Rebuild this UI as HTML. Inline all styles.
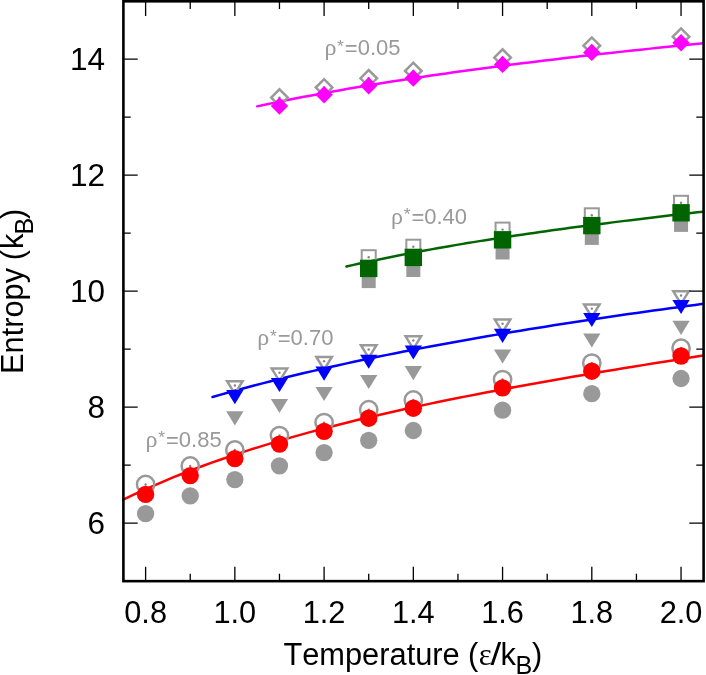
<!DOCTYPE html><html><head><meta charset="utf-8"><title>Entropy vs Temperature</title><style>html,body{margin:0;padding:0;background:#fff}svg{display:block;will-change:transform}</style></head><body><svg width="706" height="675" viewBox="0 0 706 675">
<rect width="706" height="675" fill="#fff"/>
<polyline points="123.30,499.73 133.13,494.99 142.96,490.43 152.79,486.03 162.63,481.80 172.46,477.71 182.29,473.76 192.12,469.94 201.95,466.25 211.78,462.67 221.62,459.20 231.45,455.84 241.28,452.58 251.11,449.41 260.94,446.34 270.77,443.34 280.60,440.43 290.44,437.59 300.27,434.83 310.10,432.13 319.93,429.50 329.76,426.94 339.59,424.43 349.43,421.98 359.26,419.58 369.09,417.23 378.92,414.94 388.75,412.69 398.58,410.48 408.41,408.31 418.25,406.19 428.08,404.10 437.91,402.05 447.74,400.04 457.57,398.06 467.40,396.11 477.23,394.18 487.07,392.29 496.90,390.43 506.73,388.59 516.56,386.77 526.39,384.98 536.22,383.21 546.06,381.46 555.89,379.73 565.72,378.02 575.55,376.32 585.38,374.65 595.21,372.99 605.04,371.34 614.88,369.71 624.71,368.09 634.54,366.48 644.37,364.89 654.20,363.30 664.03,361.73 673.87,360.16 683.70,358.61 693.53,357.06 703.36,355.52" fill="none" stroke="#ff0000" stroke-width="2.5" stroke-linecap="round" stroke-linejoin="round"/>
<polyline points="212.54,397.04 220.86,394.64 229.18,392.29 237.50,389.99 245.82,387.73 254.13,385.52 262.45,383.35 270.77,381.22 279.09,379.12 287.41,377.07 295.73,375.05 304.05,373.06 312.37,371.11 320.69,369.19 329.01,367.31 337.32,365.45 345.64,363.62 353.96,361.82 362.28,360.05 370.60,358.31 378.92,356.59 387.24,354.89 395.56,353.22 403.88,351.58 412.20,349.96 420.51,348.36 428.83,346.78 437.15,345.22 445.47,343.68 453.79,342.17 462.11,340.67 470.43,339.19 478.75,337.73 487.07,336.29 495.39,334.86 503.70,333.46 512.02,332.06 520.34,330.69 528.66,329.33 536.98,327.99 545.30,326.66 553.62,325.34 561.94,324.04 570.26,322.76 578.58,321.48 586.89,320.22 595.21,318.98 603.53,317.74 611.85,316.52 620.17,315.31 628.49,314.11 636.81,312.92 645.13,311.75 653.45,310.58 661.77,309.43 670.08,308.29 678.40,307.15 686.72,306.03 695.04,304.92 703.36,303.81" fill="none" stroke="#0000ff" stroke-width="2.5" stroke-linecap="round" stroke-linejoin="round"/>
<polyline points="346.40,266.51 352.45,265.14 358.50,263.80 364.55,262.48 370.60,261.18 376.65,259.91 382.70,258.66 388.75,257.43 394.80,256.22 400.85,255.03 406.90,253.86 412.95,252.71 419.00,251.57 425.05,250.46 431.10,249.36 437.15,248.28 443.20,247.21 449.25,246.16 455.30,245.13 461.35,244.11 467.40,243.10 473.45,242.11 479.50,241.13 485.55,240.17 491.60,239.22 497.65,238.28 503.70,237.35 509.75,236.44 515.80,235.53 521.85,234.64 527.91,233.76 533.96,232.89 540.01,232.03 546.06,231.18 552.11,230.34 558.16,229.50 564.21,228.68 570.26,227.86 576.31,227.06 582.36,226.26 588.41,225.47 594.46,224.69 600.51,223.91 606.56,223.14 612.61,222.38 618.66,221.63 624.71,220.88 630.76,220.14 636.81,219.40 642.86,218.67 648.91,217.94 654.96,217.22 661.01,216.51 667.06,215.80 673.11,215.10 679.16,214.40 685.21,213.70 691.26,213.01 697.31,212.32 703.36,211.64" fill="none" stroke="#006400" stroke-width="2.5" stroke-linecap="round" stroke-linejoin="round"/>
<polyline points="257.16,106.35 264.72,104.73 272.29,103.15 279.85,101.59 287.41,100.07 294.97,98.57 302.54,97.10 310.10,95.66 317.66,94.25 325.22,92.86 332.79,91.49 340.35,90.15 347.91,88.83 355.48,87.53 363.04,86.25 370.60,84.99 378.16,83.75 385.73,82.54 393.29,81.34 400.85,80.16 408.41,78.99 415.98,77.85 423.54,76.72 431.10,75.61 438.67,74.51 446.23,73.43 453.79,72.36 461.35,71.31 468.92,70.27 476.48,69.24 484.04,68.23 491.60,67.23 499.17,66.24 506.73,65.26 514.29,64.30 521.85,63.35 529.42,62.41 536.98,61.48 544.54,60.55 552.11,59.64 559.67,58.74 567.23,57.85 574.79,56.97 582.36,56.10 589.92,55.24 597.48,54.38 605.04,53.54 612.61,52.70 620.17,51.87 627.73,51.05 635.30,50.23 642.86,49.42 650.42,48.62 657.98,47.83 665.55,47.04 673.11,46.26 680.67,45.49 688.23,44.72 695.80,43.96 703.36,43.20" fill="none" stroke="#ff00ff" stroke-width="2.5" stroke-linecap="round" stroke-linejoin="round"/>
<circle cx="145.61" cy="513.70" r="8.65" fill="#999999"/>
<circle cx="190.23" cy="495.90" r="8.65" fill="#999999"/>
<circle cx="234.85" cy="479.60" r="8.65" fill="#999999"/>
<circle cx="279.47" cy="465.80" r="8.65" fill="#999999"/>
<circle cx="324.09" cy="452.60" r="8.65" fill="#999999"/>
<circle cx="368.71" cy="440.30" r="8.65" fill="#999999"/>
<circle cx="413.33" cy="430.50" r="8.65" fill="#999999"/>
<circle cx="502.57" cy="410.20" r="8.65" fill="#999999"/>
<circle cx="591.81" cy="393.70" r="8.65" fill="#999999"/>
<circle cx="681.05" cy="378.50" r="8.65" fill="#999999"/>
<circle cx="145.61" cy="484.50" r="8.65" fill="none" stroke="#999999" stroke-width="2.5"/>
<circle cx="145.61" cy="484.50" r="1.2" fill="#858585"/>
<circle cx="190.23" cy="466.00" r="8.65" fill="none" stroke="#999999" stroke-width="2.5"/>
<circle cx="190.23" cy="466.00" r="1.2" fill="#858585"/>
<circle cx="234.85" cy="449.90" r="8.65" fill="none" stroke="#999999" stroke-width="2.5"/>
<circle cx="234.85" cy="449.90" r="1.2" fill="#858585"/>
<circle cx="279.47" cy="435.55" r="8.65" fill="none" stroke="#999999" stroke-width="2.5"/>
<circle cx="279.47" cy="435.55" r="1.2" fill="#858585"/>
<circle cx="324.09" cy="422.60" r="8.65" fill="none" stroke="#999999" stroke-width="2.5"/>
<circle cx="324.09" cy="422.60" r="1.2" fill="#858585"/>
<circle cx="368.71" cy="409.70" r="8.65" fill="none" stroke="#999999" stroke-width="2.5"/>
<circle cx="368.71" cy="409.70" r="1.2" fill="#858585"/>
<circle cx="413.33" cy="400.00" r="8.65" fill="none" stroke="#999999" stroke-width="2.5"/>
<circle cx="413.33" cy="400.00" r="1.2" fill="#858585"/>
<circle cx="502.57" cy="379.55" r="8.65" fill="none" stroke="#999999" stroke-width="2.5"/>
<circle cx="502.57" cy="379.55" r="1.2" fill="#858585"/>
<circle cx="591.81" cy="363.10" r="8.65" fill="none" stroke="#999999" stroke-width="2.5"/>
<circle cx="591.81" cy="363.10" r="1.2" fill="#858585"/>
<circle cx="681.05" cy="348.20" r="8.65" fill="none" stroke="#999999" stroke-width="2.5"/>
<circle cx="681.05" cy="348.20" r="1.2" fill="#858585"/>
<polygon points="226.20,411.30 243.50,411.30 234.85,425.40" fill="#999999"/>
<polygon points="270.82,399.00 288.12,399.00 279.47,413.10" fill="#999999"/>
<polygon points="315.44,387.00 332.74,387.00 324.09,401.10" fill="#999999"/>
<polygon points="360.06,375.00 377.36,375.00 368.71,389.10" fill="#999999"/>
<polygon points="404.68,366.10 421.98,366.10 413.33,380.20" fill="#999999"/>
<polygon points="493.92,349.40 511.22,349.40 502.57,363.50" fill="#999999"/>
<polygon points="583.16,333.50 600.46,333.50 591.81,347.60" fill="#999999"/>
<polygon points="672.40,320.80 689.70,320.80 681.05,334.90" fill="#999999"/>
<polygon points="227.10,381.25 242.60,381.25 234.85,393.85" fill="none" stroke="#999999" stroke-width="2.5" stroke-linejoin="miter"/>
<circle cx="234.85" cy="385.45" r="1.2" fill="#858585"/>
<polygon points="271.72,368.55 287.22,368.55 279.47,381.15" fill="none" stroke="#999999" stroke-width="2.5" stroke-linejoin="miter"/>
<circle cx="279.47" cy="372.75" r="1.2" fill="#858585"/>
<polygon points="316.34,356.95 331.84,356.95 324.09,369.55" fill="none" stroke="#999999" stroke-width="2.5" stroke-linejoin="miter"/>
<circle cx="324.09" cy="361.15" r="1.2" fill="#858585"/>
<polygon points="360.96,345.25 376.46,345.25 368.71,357.85" fill="none" stroke="#999999" stroke-width="2.5" stroke-linejoin="miter"/>
<circle cx="368.71" cy="349.45" r="1.2" fill="#858585"/>
<polygon points="405.58,336.35 421.08,336.35 413.33,348.95" fill="none" stroke="#999999" stroke-width="2.5" stroke-linejoin="miter"/>
<circle cx="413.33" cy="340.55" r="1.2" fill="#858585"/>
<polygon points="494.82,319.55 510.32,319.55 502.57,332.15" fill="none" stroke="#999999" stroke-width="2.5" stroke-linejoin="miter"/>
<circle cx="502.57" cy="323.75" r="1.2" fill="#858585"/>
<polygon points="584.06,304.45 599.56,304.45 591.81,317.05" fill="none" stroke="#999999" stroke-width="2.5" stroke-linejoin="miter"/>
<circle cx="591.81" cy="308.65" r="1.2" fill="#858585"/>
<polygon points="673.30,291.35 688.80,291.35 681.05,303.95" fill="none" stroke="#999999" stroke-width="2.5" stroke-linejoin="miter"/>
<circle cx="681.05" cy="295.55" r="1.2" fill="#858585"/>
<rect x="361.71" y="274.10" width="14.0" height="14.0" fill="#999999"/>
<rect x="406.33" y="263.00" width="14.0" height="14.0" fill="#999999"/>
<rect x="495.57" y="245.50" width="14.0" height="14.0" fill="#999999"/>
<rect x="584.81" y="230.90" width="14.0" height="14.0" fill="#999999"/>
<rect x="674.05" y="217.90" width="14.0" height="14.0" fill="#999999"/>
<rect x="361.71" y="250.20" width="14.0" height="14.0" fill="none" stroke="#999999" stroke-width="2.0" stroke-linejoin="miter"/>
<circle cx="368.71" cy="257.20" r="1.2" fill="#858585"/>
<rect x="406.33" y="239.70" width="14.0" height="14.0" fill="none" stroke="#999999" stroke-width="2.0" stroke-linejoin="miter"/>
<circle cx="413.33" cy="246.70" r="1.2" fill="#858585"/>
<rect x="495.57" y="222.60" width="14.0" height="14.0" fill="none" stroke="#999999" stroke-width="2.0" stroke-linejoin="miter"/>
<circle cx="502.57" cy="229.60" r="1.2" fill="#858585"/>
<rect x="584.81" y="208.30" width="14.0" height="14.0" fill="none" stroke="#999999" stroke-width="2.0" stroke-linejoin="miter"/>
<circle cx="591.81" cy="215.30" r="1.2" fill="#858585"/>
<rect x="674.05" y="195.80" width="14.0" height="14.0" fill="none" stroke="#999999" stroke-width="2.0" stroke-linejoin="miter"/>
<circle cx="681.05" cy="202.80" r="1.2" fill="#858585"/>
<polygon points="271.17,97.60 279.47,89.30 287.77,97.60 279.47,105.90" fill="none" stroke="#999999" stroke-width="2.5" stroke-linejoin="miter"/>
<circle cx="279.47" cy="97.60" r="1.2" fill="#858585"/>
<polygon points="315.79,87.50 324.09,79.20 332.39,87.50 324.09,95.80" fill="none" stroke="#999999" stroke-width="2.5" stroke-linejoin="miter"/>
<circle cx="324.09" cy="87.50" r="1.2" fill="#858585"/>
<polygon points="360.41,78.30 368.71,70.00 377.01,78.30 368.71,86.60" fill="none" stroke="#999999" stroke-width="2.5" stroke-linejoin="miter"/>
<circle cx="368.71" cy="78.30" r="1.2" fill="#858585"/>
<polygon points="405.03,71.00 413.33,62.70 421.63,71.00 413.33,79.30" fill="none" stroke="#999999" stroke-width="2.5" stroke-linejoin="miter"/>
<circle cx="413.33" cy="71.00" r="1.2" fill="#858585"/>
<polygon points="494.27,57.60 502.57,49.30 510.87,57.60 502.57,65.90" fill="none" stroke="#999999" stroke-width="2.5" stroke-linejoin="miter"/>
<circle cx="502.57" cy="57.60" r="1.2" fill="#858585"/>
<polygon points="583.51,45.70 591.81,37.40 600.11,45.70 591.81,54.00" fill="none" stroke="#999999" stroke-width="2.5" stroke-linejoin="miter"/>
<circle cx="591.81" cy="45.70" r="1.2" fill="#858585"/>
<polygon points="672.75,36.70 681.05,28.40 689.35,36.70 681.05,45.00" fill="none" stroke="#999999" stroke-width="2.5" stroke-linejoin="miter"/>
<circle cx="681.05" cy="36.70" r="1.2" fill="#858585"/>
<circle cx="145.61" cy="494.40" r="8.7" fill="#ff0000"/>
<circle cx="190.23" cy="475.60" r="8.7" fill="#ff0000"/>
<circle cx="234.85" cy="458.60" r="8.7" fill="#ff0000"/>
<circle cx="279.47" cy="444.10" r="8.7" fill="#ff0000"/>
<circle cx="324.09" cy="431.35" r="8.7" fill="#ff0000"/>
<circle cx="368.71" cy="418.20" r="8.7" fill="#ff0000"/>
<circle cx="413.33" cy="408.20" r="8.7" fill="#ff0000"/>
<circle cx="502.57" cy="387.90" r="8.7" fill="#ff0000"/>
<circle cx="591.81" cy="371.20" r="8.7" fill="#ff0000"/>
<circle cx="681.05" cy="356.00" r="8.7" fill="#ff0000"/>
<polygon points="226.20,390.10 243.50,390.10 234.85,404.20" fill="#0000ff"/>
<polygon points="270.82,377.90 288.12,377.90 279.47,392.00" fill="#0000ff"/>
<polygon points="315.44,366.60 332.74,366.60 324.09,380.70" fill="#0000ff"/>
<polygon points="360.06,354.70 377.36,354.70 368.71,368.80" fill="#0000ff"/>
<polygon points="404.68,345.40 421.98,345.40 413.33,359.50" fill="#0000ff"/>
<polygon points="493.92,328.80 511.22,328.80 502.57,342.90" fill="#0000ff"/>
<polygon points="583.16,312.90 600.46,312.90 591.81,327.00" fill="#0000ff"/>
<polygon points="672.40,300.00 689.70,300.00 681.05,314.10" fill="#0000ff"/>
<rect x="360.01" y="259.70" width="17.4" height="17.4" fill="#006400"/>
<rect x="404.63" y="248.70" width="17.4" height="17.4" fill="#006400"/>
<rect x="493.87" y="231.10" width="17.4" height="17.4" fill="#006400"/>
<rect x="583.11" y="216.90" width="17.4" height="17.4" fill="#006400"/>
<rect x="672.35" y="204.10" width="17.4" height="17.4" fill="#006400"/>
<polygon points="270.77,106.00 279.47,97.30 288.17,106.00 279.47,114.70" fill="#ff00ff"/>
<polygon points="315.39,94.80 324.09,86.10 332.79,94.80 324.09,103.50" fill="#ff00ff"/>
<polygon points="360.01,85.80 368.71,77.10 377.41,85.80 368.71,94.50" fill="#ff00ff"/>
<polygon points="404.63,78.10 413.33,69.40 422.03,78.10 413.33,86.80" fill="#ff00ff"/>
<polygon points="493.87,64.40 502.57,55.70 511.27,64.40 502.57,73.10" fill="#ff00ff"/>
<polygon points="583.11,52.40 591.81,43.70 600.51,52.40 591.81,61.10" fill="#ff00ff"/>
<polygon points="672.35,42.70 681.05,34.00 689.75,42.70 681.05,51.40" fill="#ff00ff"/>
<text transform="translate(145.6,446.7) scale(1.0,0.985)" font-size="22" fill="#999999" font-family="Liberation Sans, sans-serif"><tspan font-family="Liberation Serif, serif" font-size="24">ρ</tspan><tspan font-size="17.6" dy="-3.4" dx="0.7">*</tspan><tspan dy="4.5" dx="0.9">=</tspan><tspan dy="-1.1">0.85</tspan></text>
<text transform="translate(257.3,345.1) scale(1.0,0.985)" font-size="22" fill="#999999" font-family="Liberation Sans, sans-serif"><tspan font-family="Liberation Serif, serif" font-size="24">ρ</tspan><tspan font-size="17.6" dy="-3.4" dx="0.7">*</tspan><tspan dy="4.5" dx="0.9">=</tspan><tspan dy="-1.1">0.70</tspan></text>
<text transform="translate(391.0,223.7) scale(1.0,0.985)" font-size="22" fill="#999999" font-family="Liberation Sans, sans-serif"><tspan font-family="Liberation Serif, serif" font-size="24">ρ</tspan><tspan font-size="17.6" dy="-3.4" dx="0.7">*</tspan><tspan dy="4.5" dx="0.9">=</tspan><tspan dy="-1.1">0.40</tspan></text>
<text transform="translate(324.4,55.2) scale(1.0,0.985)" font-size="22" fill="#999999" font-family="Liberation Sans, sans-serif"><tspan font-family="Liberation Serif, serif" font-size="24">ρ</tspan><tspan font-size="17.6" dy="-3.4" dx="0.7">*</tspan><tspan dy="4.5" dx="0.9">=</tspan><tspan dy="-1.1">0.05</tspan></text>
<path d="M145.61,581.15v-14.3M145.61,1.6v14.3M190.23,581.15v-7.3M190.23,1.6v7.3M234.85,581.15v-14.3M234.85,1.6v14.3M279.47,581.15v-7.3M279.47,1.6v7.3M324.09,581.15v-14.3M324.09,1.6v14.3M368.71,581.15v-7.3M368.71,1.6v7.3M413.33,581.15v-14.3M413.33,1.6v14.3M457.95,581.15v-7.3M457.95,1.6v7.3M502.57,581.15v-14.3M502.57,1.6v14.3M547.19,581.15v-7.3M547.19,1.6v7.3M591.81,581.15v-14.3M591.81,1.6v14.3M636.43,581.15v-7.3M636.43,1.6v7.3M681.05,581.15v-14.3M681.05,1.6v14.3M123.4,523.20h14.3M703.6,523.20h-14.3M123.4,465.20h7.3M703.6,465.20h-7.3M123.4,407.20h14.3M703.6,407.20h-14.3M123.4,349.20h7.3M703.6,349.20h-7.3M123.4,291.20h14.3M703.6,291.20h-14.3M123.4,233.20h7.3M703.6,233.20h-7.3M123.4,175.20h14.3M703.6,175.20h-14.3M123.4,117.20h7.3M703.6,117.20h-7.3M123.4,59.20h14.3M703.6,59.20h-14.3" stroke="#000" stroke-width="1.3" fill="none"/>
<rect x="123.4" y="1.3" width="580.20" height="579.85" fill="none" stroke="#000" stroke-width="2.6"/>
<text transform="translate(145.61,622.5) scale(1.025,1.06)" font-size="30" text-anchor="middle" font-family="Liberation Sans, sans-serif">0.8</text>
<text transform="translate(234.85,622.5) scale(1.025,1.06)" font-size="30" text-anchor="middle" font-family="Liberation Sans, sans-serif">1.0</text>
<text transform="translate(324.09,622.5) scale(1.025,1.06)" font-size="30" text-anchor="middle" font-family="Liberation Sans, sans-serif">1.2</text>
<text transform="translate(413.33,622.5) scale(1.025,1.06)" font-size="30" text-anchor="middle" font-family="Liberation Sans, sans-serif">1.4</text>
<text transform="translate(502.57,622.5) scale(1.025,1.06)" font-size="30" text-anchor="middle" font-family="Liberation Sans, sans-serif">1.6</text>
<text transform="translate(591.81,622.5) scale(1.025,1.06)" font-size="30" text-anchor="middle" font-family="Liberation Sans, sans-serif">1.8</text>
<text transform="translate(681.05,622.5) scale(1.025,1.06)" font-size="30" text-anchor="middle" font-family="Liberation Sans, sans-serif">2.0</text>
<text transform="translate(105.0,533.65) scale(1.05,1.04)" font-size="30" text-anchor="end" font-family="Liberation Sans, sans-serif">6</text>
<text transform="translate(105.0,417.65) scale(1.05,1.04)" font-size="30" text-anchor="end" font-family="Liberation Sans, sans-serif">8</text>
<text transform="translate(105.0,301.65) scale(1.05,1.04)" font-size="30" text-anchor="end" font-family="Liberation Sans, sans-serif">10</text>
<text transform="translate(105.0,185.65) scale(1.05,1.04)" font-size="30" text-anchor="end" font-family="Liberation Sans, sans-serif">12</text>
<text transform="translate(105.0,69.65) scale(1.05,1.04)" font-size="30" text-anchor="end" font-family="Liberation Sans, sans-serif">14</text>
<g style="font-kerning:none">
<text transform="translate(283.40,664.80) scale(1.0,1)" font-size="30.8" font-family="Liberation Sans, sans-serif">Temperature</text>
<text transform="translate(468.00,664.80) scale(1.0,1)" font-size="30.8" font-family="Liberation Sans, sans-serif">(</text>
<text transform="translate(478.70,664.80) scale(1.0,1)" font-size="30.8" font-family="Liberation Serif, serif">ε</text>
<text transform="translate(490.60,664.80) scale(1.25,1)" font-size="30.8" font-family="Liberation Sans, sans-serif">/</text>
<text transform="translate(500.60,664.80) scale(1.0,1)" font-size="30.8" font-family="Liberation Sans, sans-serif">k</text>
<text transform="translate(515.50,674.40) scale(1.0,1)" font-size="25.2" font-family="Liberation Sans, sans-serif">B</text>
<text transform="translate(532.10,664.80) scale(1.0,1)" font-size="30.8" font-family="Liberation Sans, sans-serif">)</text>
</g>
<g transform="translate(23.3,374.0) rotate(-90)" style="font-kerning:none">
<text transform="translate(0.00,0.00) scale(1.0,1)" font-size="30.8" font-family="Liberation Sans, sans-serif">Entropy</text>
<text transform="translate(113.80,0.00) scale(1.0,1)" font-size="30.8" font-family="Liberation Sans, sans-serif">(</text>
<text transform="translate(125.00,0.00) scale(1.0,1)" font-size="30.8" font-family="Liberation Sans, sans-serif">k</text>
<text transform="translate(139.50,9.60) scale(1.0,1)" font-size="25.2" font-family="Liberation Sans, sans-serif">B</text>
<text transform="translate(155.00,0.00) scale(1.0,1)" font-size="30.8" font-family="Liberation Sans, sans-serif">)</text>
</g>
</svg></body></html>
